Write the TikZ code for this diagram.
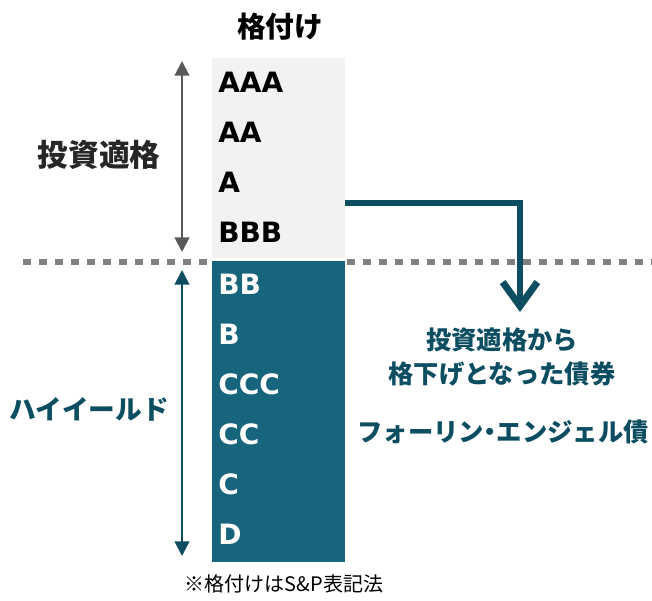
\documentclass[tikz,border=0pt]{standalone}
\usepackage{fontspec}
\setmainfont{DejaVu Sans}
\newfontfamily\jpfont{Noto Sans CJK JP}
\usetikzlibrary{arrows.meta}
\definecolor{boxgray}{HTML}{F2F2F2}
\definecolor{boxteal}{HTML}{17647D}
\definecolor{darkteal}{HTML}{0C4D61}
\definecolor{arrgray}{HTML}{595959}
\definecolor{dotgray}{HTML}{808080}
\tikzset{
  rating/.style={anchor=west, font=\fontsize{21}{21}\selectfont\bfseries, inner sep=0pt},
  jpbold/.style={inner sep=0pt, font=\jpfont\bfseries\fontsize{#1}{#1}\selectfont},
  sepline/.style={dotgray, line width=5pt, dash pattern=on 6pt off 6pt},
  span/.style={line width=1.6pt, {Triangle[length=11pt,width=11pt]}-{Triangle[length=11pt,width=11pt]}},
}
\begin{document}
\begin{tikzpicture}[x=0.75pt,y=-0.75pt]
\useasboundingbox (0,0) rectangle (652,600);
% separator
\coordinate (d1) at (23,262);
\coordinate (d2) at (212,262);
\coordinate (d3) at (347,262);
\coordinate (d4) at (652,262);
\draw[sepline] (d1) -- (d2);
\draw[sepline] (d3) -- (d4);
% boxes
\node[fill=boxgray, draw=none, minimum width=133*0.75pt, minimum height=200*0.75pt, inner sep=0pt, anchor=north west] (ig) at (212,58) {};
\node[fill=boxteal, draw=none, minimum width=133*0.75pt, minimum height=301*0.75pt, inner sep=0pt, anchor=north west] (hy) at (212,261) {};
% title
\node[jpbold=21.5pt] (title) at (280,27) {格付け};
% ratings
\node[rating] (aaa) at (218,82) {AAA};
\node[rating] (aa) at (218,132) {AA};
\node[rating] (a) at (218,182) {A};
\node[rating] (bbb) at (218,232) {BBB};
\node[rating, white] (bb) at (218,284) {BB};
\node[rating, white] (b) at (218,334) {B};
\node[rating, white] (ccc) at (218,384) {CCC};
\node[rating, white] (cc) at (218,434) {CC};
\node[rating, white] (c) at (218,484) {C};
\node[rating, white] (d) at (218,534) {D};
% span arrows
\coordinate (g1) at (182,61);
\coordinate (g2) at (182,252);
\coordinate (t1) at (182,270);
\coordinate (t2) at (182,556);
\draw[span, arrgray] (g1) -- (g2);
\draw[span, darkteal] (t1) -- (t2);
% side labels
\node[jpbold=23pt, text=black!85] (inv) at (99,155) {投資適格};
\node[jpbold=20pt, text=darkteal] (hyl) at (89,409) {ハイイールド};
% downgrade arrow
\coordinate (s) at (345,203);
\coordinate (e) at (520,312);
\draw[darkteal, line width=5.2pt, -{Straight Barb[length=18pt,width=26pt]}] (s) -| (e);
% right labels
\node[jpbold=19pt, text=darkteal, align=center] (fd) at (502,357) {投資適格から\\[6pt]格下げとなった債券};
\node[jpbold=19pt, text=darkteal] (fa) at (503,432) {フォーリン\hspace{-0.25em}・\hspace{-0.25em}エンジェル債};
% footnote
\node[inner sep=0pt, font=\jpfont\fontsize{15}{15}\selectfont] (note) at (284,584) {※格付けはS\&P表記法};
\end{tikzpicture}
\end{document}
